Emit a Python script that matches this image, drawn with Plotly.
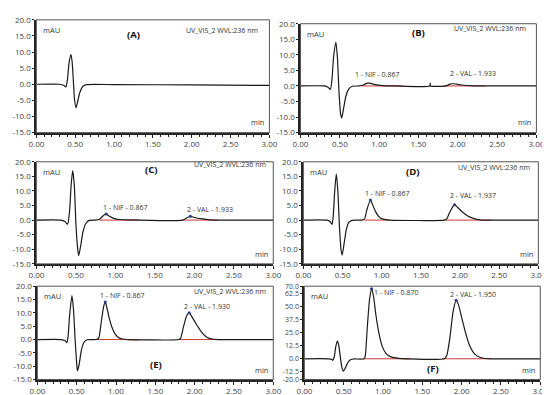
import plotly.graph_objects as go

# ---------------- data (time in min, signal in mAU) ----------------
t_A = [0.00, 0.30, 0.35, 0.38, 0.40, 0.42, 0.445, 0.46, 0.475, 0.49, 0.51, 0.53, 0.56, 0.60, 0.65, 1.00, 2.00, 3.00]
y_A = [0.0, 0.0, -0.3, -0.8, 1.5, 6.5, 9.2, 7.0, 1.5, -4.5, -7.3, -5.5, -2.5, -0.6, -0.1, -0.1, -0.2, -0.35]

t_B = [0.00, 0.30, 0.35, 0.38, 0.40, 0.42, 0.45, 0.47, 0.49, 0.51, 0.525, 0.55, 0.58, 0.62, 0.66, 0.75, 0.80, 0.85,
       0.88, 0.95, 1.05, 1.20, 1.645, 1.65, 1.655, 1.85, 1.90, 1.95, 2.05, 2.20, 3.00]
y_B = [0.0, 0.0, -0.4, -1.1, 2.0, 9.0, 14.0, 9.0, -2.0, -9.0, -10.3, -7.0, -3.0, -0.8, -0.1, 0.0, 0.3, 0.9,
       0.9, 0.4, 0.1, 0.0, 0.0, 0.9, 0.0, 0.0, 0.6, 0.7, 0.3, 0.05, 0.0]

t_C = [0.00, 0.30, 0.36, 0.395, 0.42, 0.44, 0.46, 0.48, 0.50, 0.52, 0.535, 0.56, 0.59, 0.63, 0.67, 0.75, 0.80, 0.85,
       0.885, 0.92, 0.98, 1.05, 1.15, 1.85, 1.90, 1.95, 2.00, 2.10, 2.20, 2.30, 3.00]
y_C = [0.0, 0.0, -0.5, -1.4, 3.0, 12.0, 17.0, 12.0, -1.0, -9.0, -12.2, -9.0, -4.0, -1.0, -0.1, 0.0, 0.3, 1.6,
       2.1, 1.4, 0.6, 0.2, 0.05, 0.0, 0.7, 1.3, 0.9, 0.4, 0.1, 0.0, 0.0]

t_D = [0.00, 0.30, 0.34, 0.365, 0.38, 0.40, 0.42, 0.44, 0.46, 0.48, 0.495, 0.52, 0.55, 0.58, 0.62, 0.75, 0.78, 0.81,
       0.855, 0.88, 0.92, 0.96, 1.00, 1.05, 1.10, 1.80, 1.83, 1.87, 1.93, 1.97, 2.03, 2.10, 2.18, 2.25, 2.35, 3.00]
y_D = [0.0, 0.0, -0.5, -1.5, 1.0, 10.0, 15.8, 10.0, -2.0, -10.0, -12.0, -8.0, -3.0, -0.8, -0.1, 0.0, 0.3, 3.5,
       6.9, 5.5, 3.0, 1.3, 0.5, 0.15, 0.0, 0.0, 0.4, 2.8, 5.3, 4.3, 2.8, 1.4, 0.5, 0.1, 0.0, 0.0]

t_E = [0.00, 0.30, 0.35, 0.375, 0.39, 0.41, 0.44, 0.46, 0.48, 0.50, 0.51, 0.53, 0.56, 0.59, 0.63, 0.75, 0.78, 0.81,
       0.84, 0.863, 0.88, 0.91, 0.95, 0.99, 1.03, 1.08, 1.15, 1.80, 1.82, 1.86, 1.90, 1.93, 1.96, 2.01, 2.06, 2.11,
       2.16, 2.22, 2.30, 3.00]
y_E = [0.0, 0.0, -0.4, -1.2, 1.0, 9.0, 16.5, 11.0, 0.0, -9.0, -11.8, -9.5, -4.0, -1.2, -0.1, 0.0, 0.5, 6.0,
       12.0, 14.1, 12.5, 8.5, 4.5, 2.0, 0.8, 0.2, 0.0, 0.0, 0.4, 5.0, 9.0, 10.0, 8.8, 6.3, 4.0, 2.0,
       0.8, 0.2, 0.0, 0.0]

t_F = [0.00, 0.30, 0.35, 0.36, 0.38, 0.40, 0.42, 0.44, 0.46, 0.48, 0.495, 0.52, 0.55, 0.58, 0.62, 0.76, 0.775, 0.80,
       0.83, 0.855, 0.88, 0.91, 0.95, 0.99, 1.04, 1.10, 1.20, 1.30, 1.78, 1.81, 1.85, 1.89, 1.93, 1.96, 2.00, 2.05,
       2.10, 2.16, 2.23, 2.30, 2.40, 3.00]
y_F = [0.0, 0.0, -0.5, -1.5, 2.0, 12.0, 17.4, 12.0, 0.0, -9.0, -12.0, -9.0, -4.0, -1.2, -0.2, 0.0, 3.0, 30.0,
       58.0, 67.5, 60.0, 42.0, 24.0, 12.0, 5.0, 1.8, 0.4, 0.0, 0.0, 3.0, 20.0, 45.0, 56.4, 52.0, 40.0, 25.0,
       13.0, 5.0, 1.5, 0.3, 0.0, 0.0]

panel_names = ["(A)", "(B)", "(C)", "(D)", "(E)", "(F)"]
times = [t_A, t_B, t_C, t_D, t_E, t_F]
signals = [y_A, y_B, y_C, y_D, y_E, y_F]

# integration baselines (start, end) per panel
baselines = [[], [(0.78, 1.30), (1.82, 2.35)], [(0.80, 1.30), (1.85, 2.30)],
             [(0.78, 1.10), (1.80, 2.40)], [(0.75, 1.30), (1.80, 2.35)], [(0.75, 1.35), (1.75, 2.38)]]

# peaks: (label, retention time, apex height)
peaks = [[],
         [("1 - NIF - 0.867", 0.867, 0.9), ("2 - VAL - 1.933", 1.933, 0.7)],
         [("1 - NIF - 0.867", 0.885, 2.1), ("2 - VAL - 1.933", 1.95, 1.3)],
         [("1 - NIF - 0.867", 0.855, 6.9), ("2 - VAL - 1.937", 1.93, 5.3)],
         [("1 - NIF - 0.867", 0.863, 14.1), ("2 - VAL - 1.930", 1.93, 10.0)],
         [("1 - NIF - 0.870", 0.855, 67.5), ("2 - VAL - 1.950", 1.93, 56.4)]]

y_ranges = [[-15, 20]] * 5 + [[-20, 70]]
y_ticks_std = [-15, -10, -5, 0, 5, 10, 15, 20]
y_ticks_F = [-20, -12.5, 0, 12.5, 25, 37.5, 50, 62.5, 70]
x_ticks = [0.0, 0.5, 1.0, 1.5, 2.0, 2.5, 3.0]

# ---------------- layout geometry (pixels) ----------------
W, H = 550, 395
boxes = [(21, 261, 6, 122), (293, 536, 10, 122),
         (21, 265, 152, 257), (296, 538, 152, 257),
         (22, 265, 280, 376), (297, 540, 280, 376)]

# annotation placement (data coords) per panel
label_pos = [(1.25, 15.3), (1.50, 17.2), (1.46, 17.2), (1.39, 16.7), (1.51, -9.4), (1.64, -9.6)]
uv_pos = [(2.39, 16.7), (2.41, 18.4), (2.45, 18.9), (2.44, 18.0), (2.45, 18.2), None]
peak_lab = [[],
            [(0.97, 3.8), (2.20, 4.0)],
            [(1.12, 4.2), (2.20, 3.7)],
            [(1.07, 9.1), (2.16, 8.3)],
            [(1.08, 16.5), (2.16, 12.4)],
            [(1.16, 64.0), (2.15, 62.0)]]

fig = go.Figure()
layout = dict(width=W, height=H, margin=dict(l=0, r=0, t=0, b=0),
              paper_bgcolor="white", plot_bgcolor="white", showlegend=False,
              font=dict(family="Open Sans, Arial, sans-serif", size=8, color="#333"))
annotations = []
shapes = []

for i in range(6):
    n = "" if i == 0 else str(i + 1)
    xa, ya = "x" + n, "y" + n
    x0, x1, y0, y1 = boxes[i]
    layout["xaxis" + n] = dict(
        domain=[x0 / W, x1 / W], anchor=ya, range=[0, 3], tickvals=x_ticks,
        ticktext=["%.2f" % v for v in x_ticks], ticks="outside", ticklen=3, tickwidth=1,
        tickcolor="#222", showline=True, linecolor="#222", linewidth=2, showgrid=False,
        zeroline=False, tickfont=dict(size=8, color="#444"),
        minor=dict(dtick=0.1, ticks="outside", ticklen=2, tickcolor="#222", showgrid=False))
    yt = y_ticks_F if i == 5 else y_ticks_std
    layout["yaxis" + n] = dict(
        domain=[1 - y1 / H, 1 - y0 / H], anchor=xa, range=y_ranges[i], tickvals=yt,
        ticktext=["%.1f" % v for v in yt], ticks="outside", ticklen=2, tickwidth=1,
        tickcolor="#222", showline=True, linecolor="#222", linewidth=2, showgrid=False,
        zeroline=False, tickfont=dict(size=7 if i == 5 else 8, color="#444"))
    # frame box
    shapes.append(dict(type="rect", xref=xa + " domain", yref=ya + " domain", x0=0, x1=1, y0=0, y1=1,
                       line=dict(color="#555", width=1)))
    # red baselines
    for (b0, b1) in baselines[i]:
        fig.add_trace(go.Scatter(x=[b0, b1], y=[0, 0], mode="lines", xaxis=xa, yaxis=ya,
                                 line=dict(color="#d03a3a", width=1), hoverinfo="skip"))
    # chromatogram
    fig.add_trace(go.Scatter(x=times[i], y=signals[i], mode="lines", xaxis=xa, yaxis=ya,
                             line=dict(color="#1a1a1a", width=1.2, shape="spline", smoothing=0.6)))
    # peak apex markers
    if i >= 2:
        fig.add_trace(go.Scatter(x=[p[1] for p in peaks[i]], y=[p[2] for p in peaks[i]], mode="markers",
                                 xaxis=xa, yaxis=ya, marker=dict(color="#2b3a8c", size=3)))
    # texts
    annotations.append(dict(x=label_pos[i][0], y=label_pos[i][1], xref=xa, yref=ya, text="<b>%s</b>" % panel_names[i],
                            showarrow=False, font=dict(size=9.5, color="#111")))
    if uv_pos[i] is not None:
        annotations.append(dict(x=uv_pos[i][0], y=uv_pos[i][1], xref=xa, yref=ya, text="UV_VIS_2 WVL:236 nm",
                                showarrow=False, font=dict(size=7, color="#333")))
    annotations.append(dict(x=0.02, y=0.97, xref=xa + " domain", yref=ya + " domain", text="mAU",
                            xanchor="left", yanchor="top", showarrow=False, font=dict(size=7.5, color="#333")))
    annotations.append(dict(x=0.985, y=0.03, xref=xa + " domain", yref=ya + " domain", text="min",
                            xanchor="right", yanchor="bottom", showarrow=False, font=dict(size=7.5, color="#333")))
    for (lab, _, _), (lx, ly) in zip(peaks[i], peak_lab[i]):
        annotations.append(dict(x=lx, y=ly, xref=xa, yref=ya, text=lab, showarrow=False,
                                font=dict(size=7, color="#333")))

layout["annotations"] = annotations
layout["shapes"] = shapes
fig.update_layout(**layout)
fig.write_html("out.html")
